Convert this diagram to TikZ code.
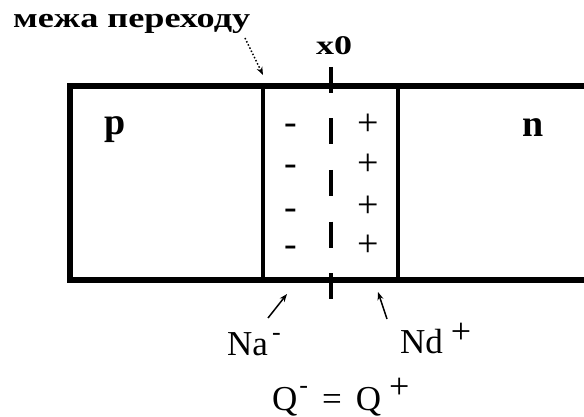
\documentclass[tikz,border=0pt]{standalone}
\usepackage{fontspec}
\setmainfont{Liberation Serif}
\usetikzlibrary{arrows.meta}
\begin{document}
\begin{tikzpicture}[x=1pt,y=-1pt,
  frame/.style={line width=5.5pt},
  inner/.style={line width=4pt},
  axis/.style={line width=4.5pt,dash pattern=on 26pt off 25.5pt},
  sign/.style={font=\fontsize{38}{38}\selectfont,inner sep=0pt,anchor=base},
  lbl/.style={font=\fontsize{35}{35}\selectfont,inner sep=0pt},
  blbl/.style={font=\bfseries\fontsize{38}{38}\selectfont,inner sep=0pt},
  ptr/.style={line width=1.5pt,-{Stealth[length=8pt,width=6pt]}}]
\useasboundingbox (0,0) rectangle (584,417);
\fill[white] (0,0) rectangle (584,417);
% crystal
\draw[frame] (600,86) -- (70,86) -- (70,280) -- (600,280);
\coordinate (jl-t) at (262.5,86); \coordinate (jl-b) at (262.5,280);
\coordinate (jr-t) at (397.5,86); \coordinate (jr-b) at (397.5,280);
\draw[inner] (jl-t) -- (jl-b);
\draw[inner] (jr-t) -- (jr-b);
\coordinate (ax-t) at (331,67); \coordinate (ax-b) at (331,299);
\draw[axis] (ax-t) -- (ax-b);
% labels
\node[blbl,anchor=base] (p) at (115,135) {p};
\node[blbl,anchor=base] (n) at (533,137) {n};
\node[font=\bfseries\fontsize{27}{27}\selectfont,inner sep=0pt,anchor=base] (x0) at (334,55) {\resizebox{36pt}{\height}{x0}};
\node[font=\bfseries\fontsize{28}{28}\selectfont,inner sep=0pt,anchor=base west] (mezha) at (13,28) {\resizebox{237pt}{\height}{межа переходу}};
% charges
\foreach \y [count=\i] in {123,164,207,244}{
  \node[sign] (m\i) at (291,\y+12) {-};
}
\foreach \y [count=\i] in {123,163,205,243}{
  \node[sign] (pl\i) at (368,\y+13) {+};
}
% bottom labels
\node[lbl,anchor=base west] (na) at (227,355) {Na\hspace{4pt}\raisebox{15pt}{\fontsize{26}{26}\selectfont -}};
\node[lbl,anchor=base west] (nd) at (400,353) {Nd\hspace{8pt}\raisebox{10pt}{\fontsize{36}{36}\selectfont +}};
\node[lbl,anchor=base west] (q) at (272,410) {Q\hspace{2pt}\raisebox{17pt}{\fontsize{26}{26}\selectfont -}\hspace{14pt}=\hspace{14pt}Q\hspace{8pt}\raisebox{12pt}{\fontsize{36}{36}\selectfont +}};
% pointers
\coordinate (a1s) at (245,38); \coordinate (a1e) at (263,75);
\draw[ptr,dotted] (a1s) -- (a1e);
\coordinate (a2s) at (268,318); \coordinate (a2e) at (287,294);
\draw[ptr] (a2s) -- (a2e);
\coordinate (a3s) at (387,319); \coordinate (a3e) at (378,292);
\draw[ptr] (a3s) -- (a3e);
\end{tikzpicture}
\end{document}
